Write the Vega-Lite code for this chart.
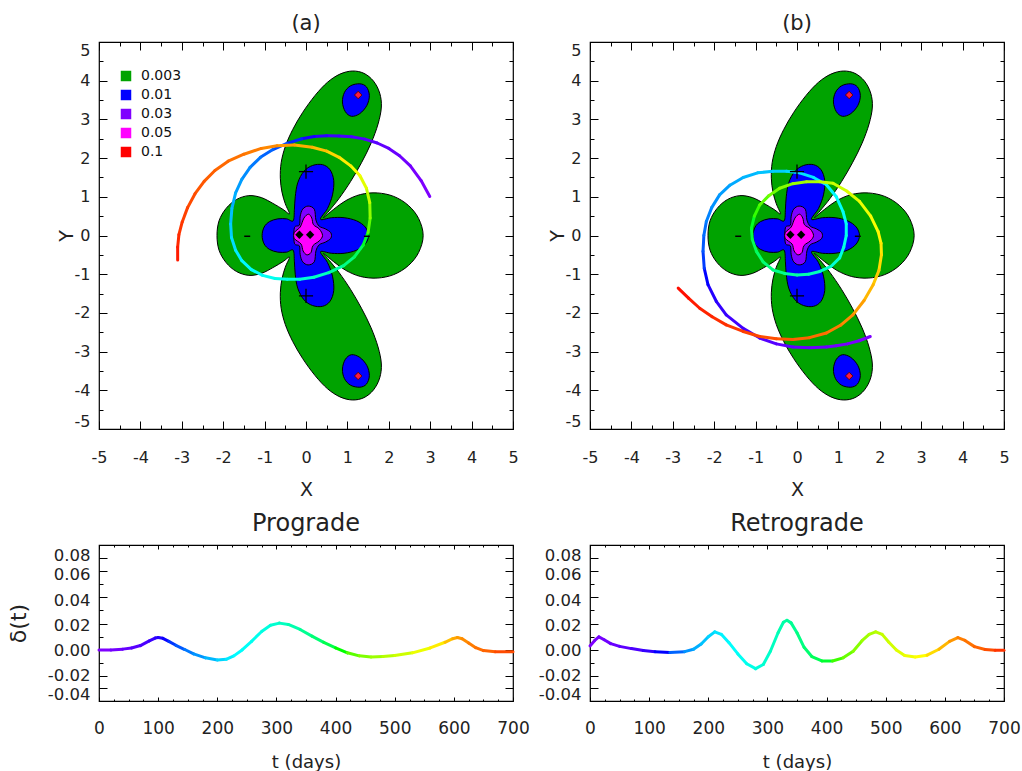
{
"$schema": "https://vega.github.io/schema/vega-lite/v6.json",
"background": "white",
"padding": {"left": 6, "top": 11, "right": 0, "bottom": 5},
"bounds": "flush",
"columns": 2,
"spacing": {"row": 116, "column": 77},
"config": {
  "font": "DejaVu Sans",
  "view": {"stroke": "#000", "strokeWidth": 1.2},
  "axis": {"domain": false, "grid": false, "labelFont": "DejaVu Sans", "titleFont": "DejaVu Sans", "labelColor": "#222", "titleColor": "#222", "tickColor": "#000", "tickWidth": 1, "titleFontWeight": "normal", "labelFlush": false, "labelOverlap": false},
  "title": {"fontWeight": "normal", "color": "#222", "font": "DejaVu Sans"},
  "legend": {"symbolStrokeWidth": 0, "labelFont": "DejaVu Sans", "labelFontSize": 14}
},
"resolve": {"scale": {"x": "independent", "y": "independent", "fill": "independent", "color": "independent"}, "legend": {"fill": "independent", "color": "independent"}},
"datasets": {
  "contours": [
    {"p":"g","l":"0.003","i":0,"x":-2.15,"y":0.0},{"p":"g","l":"0.003","i":1,"x":-2.10,"y":0.38},{"p":"g","l":"0.003","i":2,"x":-1.93,"y":0.70},{"p":"g","l":"0.003","i":3,"x":-1.68,"y":0.93},{"p":"g","l":"0.003","i":4,"x":-1.38,"y":1.03},{"p":"g","l":"0.003","i":5,"x":-1.08,"y":0.98},{"p":"g","l":"0.003","i":6,"x":-0.80,"y":0.83},{"p":"g","l":"0.003","i":7,"x":-0.55,"y":0.67},{"p":"g","l":"0.003","i":8,"x":-0.40,"y":0.56},{"p":"g","l":"0.003","i":9,"x":-0.50,"y":0.82},{"p":"g","l":"0.003","i":10,"x":-0.58,"y":1.12},{"p":"g","l":"0.003","i":11,"x":-0.62,"y":1.48},{"p":"g","l":"0.003","i":12,"x":-0.60,"y":1.88},{"p":"g","l":"0.003","i":13,"x":-0.50,"y":2.30},{"p":"g","l":"0.003","i":14,"x":-0.32,"y":2.74},{"p":"g","l":"0.003","i":15,"x":-0.08,"y":3.18},{"p":"g","l":"0.003","i":16,"x":0.22,"y":3.62},{"p":"g","l":"0.003","i":17,"x":0.52,"y":3.96},{"p":"g","l":"0.003","i":18,"x":0.82,"y":4.17},{"p":"g","l":"0.003","i":19,"x":1.12,"y":4.25},{"p":"g","l":"0.003","i":20,"x":1.40,"y":4.19},{"p":"g","l":"0.003","i":21,"x":1.63,"y":3.99},{"p":"g","l":"0.003","i":22,"x":1.78,"y":3.68},{"p":"g","l":"0.003","i":23,"x":1.82,"y":3.32},{"p":"g","l":"0.003","i":24,"x":1.74,"y":2.88},{"p":"g","l":"0.003","i":25,"x":1.57,"y":2.38},{"p":"g","l":"0.003","i":26,"x":1.34,"y":1.88},{"p":"g","l":"0.003","i":27,"x":1.08,"y":1.40},{"p":"g","l":"0.003","i":28,"x":0.80,"y":0.96},{"p":"g","l":"0.003","i":29,"x":0.56,"y":0.64},{"p":"g","l":"0.003","i":30,"x":0.42,"y":0.46},{"p":"g","l":"0.003","i":31,"x":0.66,"y":0.67},{"p":"g","l":"0.003","i":32,"x":0.96,"y":0.90},{"p":"g","l":"0.003","i":33,"x":1.32,"y":1.06},{"p":"g","l":"0.003","i":34,"x":1.72,"y":1.10},{"p":"g","l":"0.003","i":35,"x":2.12,"y":1.01},{"p":"g","l":"0.003","i":36,"x":2.47,"y":0.78},{"p":"g","l":"0.003","i":37,"x":2.72,"y":0.44},{"p":"g","l":"0.003","i":38,"x":2.83,"y":0.0},{"p":"g","l":"0.003","i":39,"x":2.72,"y":-0.44},{"p":"g","l":"0.003","i":40,"x":2.47,"y":-0.78},{"p":"g","l":"0.003","i":41,"x":2.12,"y":-1.01},{"p":"g","l":"0.003","i":42,"x":1.72,"y":-1.10},{"p":"g","l":"0.003","i":43,"x":1.32,"y":-1.06},{"p":"g","l":"0.003","i":44,"x":0.96,"y":-0.90},{"p":"g","l":"0.003","i":45,"x":0.66,"y":-0.67},{"p":"g","l":"0.003","i":46,"x":0.42,"y":-0.46},{"p":"g","l":"0.003","i":47,"x":0.56,"y":-0.64},{"p":"g","l":"0.003","i":48,"x":0.80,"y":-0.96},{"p":"g","l":"0.003","i":49,"x":1.08,"y":-1.40},{"p":"g","l":"0.003","i":50,"x":1.34,"y":-1.88},{"p":"g","l":"0.003","i":51,"x":1.57,"y":-2.38},{"p":"g","l":"0.003","i":52,"x":1.74,"y":-2.88},{"p":"g","l":"0.003","i":53,"x":1.82,"y":-3.32},{"p":"g","l":"0.003","i":54,"x":1.78,"y":-3.68},{"p":"g","l":"0.003","i":55,"x":1.63,"y":-3.99},{"p":"g","l":"0.003","i":56,"x":1.40,"y":-4.19},{"p":"g","l":"0.003","i":57,"x":1.12,"y":-4.25},{"p":"g","l":"0.003","i":58,"x":0.82,"y":-4.17},{"p":"g","l":"0.003","i":59,"x":0.52,"y":-3.96},{"p":"g","l":"0.003","i":60,"x":0.22,"y":-3.62},{"p":"g","l":"0.003","i":61,"x":-0.08,"y":-3.18},{"p":"g","l":"0.003","i":62,"x":-0.32,"y":-2.74},{"p":"g","l":"0.003","i":63,"x":-0.50,"y":-2.30},{"p":"g","l":"0.003","i":64,"x":-0.60,"y":-1.88},{"p":"g","l":"0.003","i":65,"x":-0.62,"y":-1.48},{"p":"g","l":"0.003","i":66,"x":-0.58,"y":-1.12},{"p":"g","l":"0.003","i":67,"x":-0.50,"y":-0.82},{"p":"g","l":"0.003","i":68,"x":-0.40,"y":-0.56},{"p":"g","l":"0.003","i":69,"x":-0.55,"y":-0.67},{"p":"g","l":"0.003","i":70,"x":-0.80,"y":-0.83},{"p":"g","l":"0.003","i":71,"x":-1.08,"y":-0.98},{"p":"g","l":"0.003","i":72,"x":-1.38,"y":-1.03},{"p":"g","l":"0.003","i":73,"x":-1.68,"y":-0.93},{"p":"g","l":"0.003","i":74,"x":-1.93,"y":-0.70},{"p":"g","l":"0.003","i":75,"x":-2.10,"y":-0.38},
    {"p":"b1","l":"0.01","i":0,"x":-1.06,"y":0.0},{"p":"b1","l":"0.01","i":1,"x":-1.01,"y":0.22},{"p":"b1","l":"0.01","i":2,"x":-0.88,"y":0.36},{"p":"b1","l":"0.01","i":3,"x":-0.68,"y":0.43},{"p":"b1","l":"0.01","i":4,"x":-0.47,"y":0.43},{"p":"b1","l":"0.01","i":5,"x":-0.31,"y":0.38},{"p":"b1","l":"0.01","i":6,"x":-0.28,"y":0.68},{"p":"b1","l":"0.01","i":7,"x":-0.26,"y":1.00},{"p":"b1","l":"0.01","i":8,"x":-0.20,"y":1.36},{"p":"b1","l":"0.01","i":9,"x":-0.05,"y":1.66},{"p":"b1","l":"0.01","i":10,"x":0.16,"y":1.81},{"p":"b1","l":"0.01","i":11,"x":0.40,"y":1.83},{"p":"b1","l":"0.01","i":12,"x":0.58,"y":1.70},{"p":"b1","l":"0.01","i":13,"x":0.67,"y":1.42},{"p":"b1","l":"0.01","i":14,"x":0.64,"y":1.05},{"p":"b1","l":"0.01","i":15,"x":0.52,"y":0.70},{"p":"b1","l":"0.01","i":16,"x":0.35,"y":0.42},{"p":"b1","l":"0.01","i":17,"x":0.62,"y":0.46},{"p":"b1","l":"0.01","i":18,"x":0.92,"y":0.46},{"p":"b1","l":"0.01","i":19,"x":1.22,"y":0.38},{"p":"b1","l":"0.01","i":20,"x":1.43,"y":0.22},{"p":"b1","l":"0.01","i":21,"x":1.51,"y":0.0},{"p":"b1","l":"0.01","i":22,"x":1.43,"y":-0.22},{"p":"b1","l":"0.01","i":23,"x":1.22,"y":-0.38},{"p":"b1","l":"0.01","i":24,"x":0.92,"y":-0.46},{"p":"b1","l":"0.01","i":25,"x":0.62,"y":-0.46},{"p":"b1","l":"0.01","i":26,"x":0.35,"y":-0.42},{"p":"b1","l":"0.01","i":27,"x":0.52,"y":-0.70},{"p":"b1","l":"0.01","i":28,"x":0.64,"y":-1.05},{"p":"b1","l":"0.01","i":29,"x":0.67,"y":-1.42},{"p":"b1","l":"0.01","i":30,"x":0.58,"y":-1.70},{"p":"b1","l":"0.01","i":31,"x":0.40,"y":-1.83},{"p":"b1","l":"0.01","i":32,"x":0.16,"y":-1.81},{"p":"b1","l":"0.01","i":33,"x":-0.05,"y":-1.66},{"p":"b1","l":"0.01","i":34,"x":-0.20,"y":-1.36},{"p":"b1","l":"0.01","i":35,"x":-0.26,"y":-1.00},{"p":"b1","l":"0.01","i":36,"x":-0.28,"y":-0.68},{"p":"b1","l":"0.01","i":37,"x":-0.31,"y":-0.38},{"p":"b1","l":"0.01","i":38,"x":-0.47,"y":-0.43},{"p":"b1","l":"0.01","i":39,"x":-0.68,"y":-0.43},{"p":"b1","l":"0.01","i":40,"x":-0.88,"y":-0.36},{"p":"b1","l":"0.01","i":41,"x":-1.01,"y":-0.22},
    {"p":"b2","l":"0.01","i":0,"x":1.30,"y":3.92},{"p":"b2","l":"0.01","i":1,"x":1.46,"y":3.84},{"p":"b2","l":"0.01","i":2,"x":1.53,"y":3.62},{"p":"b2","l":"0.01","i":3,"x":1.47,"y":3.36},{"p":"b2","l":"0.01","i":4,"x":1.30,"y":3.15},{"p":"b2","l":"0.01","i":5,"x":1.10,"y":3.08},{"p":"b2","l":"0.01","i":6,"x":0.95,"y":3.20},{"p":"b2","l":"0.01","i":7,"x":0.88,"y":3.45},{"p":"b2","l":"0.01","i":8,"x":0.93,"y":3.70},{"p":"b2","l":"0.01","i":9,"x":1.08,"y":3.87},
    {"p":"b3","l":"0.01","i":0,"x":1.30,"y":-3.92},{"p":"b3","l":"0.01","i":1,"x":1.46,"y":-3.84},{"p":"b3","l":"0.01","i":2,"x":1.53,"y":-3.62},{"p":"b3","l":"0.01","i":3,"x":1.47,"y":-3.36},{"p":"b3","l":"0.01","i":4,"x":1.30,"y":-3.15},{"p":"b3","l":"0.01","i":5,"x":1.10,"y":-3.08},{"p":"b3","l":"0.01","i":6,"x":0.95,"y":-3.20},{"p":"b3","l":"0.01","i":7,"x":0.88,"y":-3.45},{"p":"b3","l":"0.01","i":8,"x":0.93,"y":-3.70},{"p":"b3","l":"0.01","i":9,"x":1.08,"y":-3.87},
    {"p":"v","l":"0.03","i":0,"x":-0.28,"y":0.20},{"p":"v","l":"0.03","i":1,"x":-0.16,"y":0.27},{"p":"v","l":"0.03","i":2,"x":-0.14,"y":0.50},{"p":"v","l":"0.03","i":3,"x":-0.08,"y":0.68},{"p":"v","l":"0.03","i":4,"x":0.05,"y":0.76},{"p":"v","l":"0.03","i":5,"x":0.20,"y":0.68},{"p":"v","l":"0.03","i":6,"x":0.24,"y":0.40},{"p":"v","l":"0.03","i":7,"x":0.32,"y":0.24},{"p":"v","l":"0.03","i":8,"x":0.47,"y":0.17},{"p":"v","l":"0.03","i":9,"x":0.60,"y":0.07},{"p":"v","l":"0.03","i":10,"x":0.60,"y":-0.07},{"p":"v","l":"0.03","i":11,"x":0.47,"y":-0.17},{"p":"v","l":"0.03","i":12,"x":0.32,"y":-0.24},{"p":"v","l":"0.03","i":13,"x":0.24,"y":-0.40},{"p":"v","l":"0.03","i":14,"x":0.20,"y":-0.68},{"p":"v","l":"0.03","i":15,"x":0.05,"y":-0.76},{"p":"v","l":"0.03","i":16,"x":-0.08,"y":-0.68},{"p":"v","l":"0.03","i":17,"x":-0.14,"y":-0.50},{"p":"v","l":"0.03","i":18,"x":-0.16,"y":-0.27},{"p":"v","l":"0.03","i":19,"x":-0.28,"y":-0.20},
    {"p":"m","l":"0.05","i":0,"x":-0.28,"y":0.08},{"p":"m","l":"0.05","i":1,"x":-0.14,"y":0.22},{"p":"m","l":"0.05","i":2,"x":-0.05,"y":0.45},{"p":"m","l":"0.05","i":3,"x":0.06,"y":0.55},{"p":"m","l":"0.05","i":4,"x":0.14,"y":0.45},{"p":"m","l":"0.05","i":5,"x":0.18,"y":0.28},{"p":"m","l":"0.05","i":6,"x":0.32,"y":0.17},{"p":"m","l":"0.05","i":7,"x":0.40,"y":0.0},{"p":"m","l":"0.05","i":8,"x":0.32,"y":-0.14},{"p":"m","l":"0.05","i":9,"x":0.17,"y":-0.26},{"p":"m","l":"0.05","i":10,"x":0.12,"y":-0.44},{"p":"m","l":"0.05","i":11,"x":0.02,"y":-0.50},{"p":"m","l":"0.05","i":12,"x":-0.07,"y":-0.40},{"p":"m","l":"0.05","i":13,"x":-0.12,"y":-0.22},{"p":"m","l":"0.05","i":14,"x":-0.28,"y":-0.08}
  ],
  "marks": [
    {"k":"dia","x":-0.16,"y":0.02},{"k":"dia","x":0.10,"y":0.02},
    {"k":"plus","x":0.0,"y":1.65},{"k":"plus","x":0.0,"y":-1.56},
    {"k":"dash","x":-1.42,"y":-0.02},{"k":"dash","x":1.47,"y":-0.02},
    {"k":"red","x":1.26,"y":3.63},{"k":"red","x":1.26,"y":-3.63}
  ],
  "trajA": [
    {"t":0,"x":2.99,"y":1.01},{"t":12,"x":2.78,"y":1.42},{"t":24,"x":2.52,"y":1.80},{"t":34,"x":2.26,"y":2.06},{"t":44,"x":2.00,"y":2.25},{"t":54,"x":1.72,"y":2.39},{"t":64,"x":1.42,"y":2.49},{"t":74,"x":1.10,"y":2.55},{"t":84,"x":0.80,"y":2.57},{"t":95,"x":0.50,"y":2.575},{"t":104,"x":0.20,"y":2.56},{"t":114,"x":-0.10,"y":2.50},{"t":125,"x":-0.46,"y":2.38},
    {"t":135,"x":-0.80,"y":2.22},{"t":145,"x":-1.10,"y":2.02},{"t":155,"x":-1.35,"y":1.76},{"t":165,"x":-1.55,"y":1.45},{"t":175,"x":-1.70,"y":1.10},{"t":185,"x":-1.79,"y":0.70},{"t":195,"x":-1.82,"y":0.30},{"t":205,"x":-1.80,"y":-0.05},{"t":215,"x":-1.70,"y":-0.38},{"t":225,"x":-1.55,"y":-0.65},{"t":237,"x":-1.32,"y":-0.88},{"t":250,"x":-1.05,"y":-1.03},{"t":262,"x":-0.75,"y":-1.11},{"t":275,"x":-0.45,"y":-1.13},
    {"t":290,"x":-0.15,"y":-1.13},{"t":305,"x":0.19,"y":-1.08},{"t":328,"x":0.55,"y":-0.96},{"t":350,"x":0.91,"y":-0.78},{"t":372,"x":1.17,"y":-0.55},{"t":395,"x":1.38,"y":-0.25},{"t":422,"x":1.50,"y":0.08},{"t":450,"x":1.55,"y":0.45},
    {"t":488,"x":1.54,"y":0.85},{"t":520,"x":1.46,"y":1.22},{"t":542,"x":1.30,"y":1.55},{"t":560,"x":1.08,"y":1.80},{"t":573,"x":0.80,"y":2.02},{"t":585,"x":0.50,"y":2.18},{"t":595,"x":0.15,"y":2.28},{"t":605,"x":-0.28,"y":2.34},
    {"t":615,"x":-0.70,"y":2.32},{"t":625,"x":-1.08,"y":2.25},{"t":635,"x":-1.50,"y":2.10},{"t":645,"x":-1.88,"y":1.92},{"t":654,"x":-2.20,"y":1.68},{"t":662,"x":-2.46,"y":1.40},{"t":670,"x":-2.68,"y":1.08},{"t":678,"x":-2.86,"y":0.72},{"t":684,"x":-2.99,"y":0.35},{"t":690,"x":-3.07,"y":0.02},{"t":695,"x":-3.10,"y":-0.30},{"t":700,"x":-3.10,"y":-0.63}
  ],
  "trajB": [
    {"t":0,"x":1.77,"y":-2.61},{"t":8,"x":1.50,"y":-2.72},{"t":15,"x":1.22,"y":-2.80},{"t":22,"x":0.95,"y":-2.85},{"t":30,"x":0.71,"y":-2.88},{"t":40,"x":0.30,"y":-2.90},{"t":50,"x":-0.10,"y":-2.88},{"t":60,"x":-0.50,"y":-2.80},{"t":70,"x":-0.90,"y":-2.65},{"t":80,"x":-1.30,"y":-2.40},{"t":90,"x":-1.71,"y":-2.05},{"t":100,"x":-1.95,"y":-1.70},{"t":110,"x":-2.15,"y":-1.27},{"t":120,"x":-2.24,"y":-0.85},{"t":130,"x":-2.27,"y":-0.41},{"t":140,"x":-2.25,"y":0.0},{"t":150,"x":-2.19,"y":0.36},{"t":158,"x":-2.06,"y":0.72},{"t":165,"x":-1.87,"y":1.05},{"t":172,"x":-1.62,"y":1.30},{"t":180,"x":-1.30,"y":1.50},{"t":188,"x":-0.95,"y":1.62},{"t":195,"x":-0.58,"y":1.66},{"t":203,"x":-0.25,"y":1.66},{"t":210,"x":0.06,"y":1.62},{"t":217,"x":0.40,"y":1.50},{"t":225,"x":0.71,"y":1.31},{"t":235,"x":0.95,"y":1.00},{"t":245,"x":1.11,"y":0.62},{"t":255,"x":1.19,"y":0.30},{"t":265,"x":1.19,"y":0.0},{"t":275,"x":1.13,"y":-0.30},{"t":285,"x":1.03,"y":-0.58},{"t":298,"x":0.82,"y":-0.80},{"t":310,"x":0.55,"y":-0.93},{"t":320,"x":0.28,"y":-1.00},{"t":330,"x":0.0,"y":-1.02},{"t":343,"x":-0.30,"y":-0.98},{"t":355,"x":-0.58,"y":-0.89},{"t":365,"x":-0.82,"y":-0.68},{"t":375,"x":-0.98,"y":-0.41},{"t":385,"x":-1.08,"y":-0.10},{"t":395,"x":-1.10,"y":0.19},{"t":407,"x":-1.03,"y":0.50},{"t":420,"x":-0.90,"y":0.79},{"t":432,"x":-0.68,"y":1.03},{"t":445,"x":-0.42,"y":1.22},{"t":458,"x":-0.10,"y":1.34},{"t":470,"x":0.23,"y":1.39},{"t":485,"x":0.55,"y":1.39},{"t":500,"x":0.87,"y":1.35},{"t":515,"x":1.20,"y":1.15},{"t":530,"x":1.51,"y":0.88},{"t":543,"x":1.78,"y":0.50},{"t":555,"x":1.96,"y":0.10},{"t":563,"x":2.03,"y":-0.20},{"t":570,"x":2.04,"y":-0.50},{"t":580,"x":1.98,"y":-0.90},{"t":590,"x":1.84,"y":-1.27},{"t":603,"x":1.62,"y":-1.68},{"t":615,"x":1.35,"y":-2.05},{"t":628,"x":1.05,"y":-2.32},{"t":640,"x":0.71,"y":-2.52},{"t":650,"x":0.30,"y":-2.64},{"t":660,"x":-0.10,"y":-2.69},{"t":668,"x":-0.50,"y":-2.67},{"t":675,"x":-0.90,"y":-2.61},{"t":682,"x":-1.30,"y":-2.48},{"t":688,"x":-1.71,"y":-2.31},{"t":692,"x":-2.05,"y":-2.10},{"t":695,"x":-2.35,"y":-1.88},{"t":698,"x":-2.62,"y":-1.62},{"t":700,"x":-2.87,"y":-1.36}
  ],
  "dP": [
    {"t":0,"d":0.0},{"t":20,"d":0.0},{"t":40,"d":0.0006},{"t":55,"d":0.0015},{"t":70,"d":0.0033},{"t":85,"d":0.0068},{"t":95,"d":0.0090},{"t":100,"d":0.0094},{"t":108,"d":0.0088},{"t":118,"d":0.0065},{"t":130,"d":0.0035},{"t":145,"d":0.0003},{"t":160,"d":-0.0030},{"t":180,"d":-0.0060},{"t":200,"d":-0.0076},{"t":215,"d":-0.0071},{"t":228,"d":-0.0045},{"t":242,"d":0.0},{"t":258,"d":0.0065},{"t":275,"d":0.0140},{"t":290,"d":0.0187},{"t":305,"d":0.0203},{"t":320,"d":0.0193},{"t":340,"d":0.0155},{"t":360,"d":0.0105},{"t":380,"d":0.0057},{"t":400,"d":0.0015},{"t":420,"d":-0.0022},{"t":440,"d":-0.0045},{"t":460,"d":-0.0053},{"t":480,"d":-0.0050},{"t":500,"d":-0.0042},{"t":530,"d":-0.0022},{"t":560,"d":0.0015},{"t":585,"d":0.0058},{"t":598,"d":0.0085},{"t":606,"d":0.0094},{"t":614,"d":0.0085},{"t":625,"d":0.0052},{"t":637,"d":0.0017},{"t":650,"d":-0.0005},{"t":670,"d":-0.0013},{"t":700,"d":-0.0013}
  ],
  "dR": [
    {"t":0,"d":0.0030},{"t":8,"d":0.0072},{"t":15,"d":0.0099},{"t":24,"d":0.0077},{"t":35,"d":0.0048},{"t":50,"d":0.0027},{"t":70,"d":0.0010},{"t":90,"d":-0.0005},{"t":110,"d":-0.0013},{"t":135,"d":-0.0020},{"t":160,"d":-0.0013},{"t":175,"d":0.0005},{"t":188,"d":0.0045},{"t":200,"d":0.0100},{"t":211,"d":0.0137},{"t":222,"d":0.0118},{"t":235,"d":0.0055},{"t":250,"d":-0.0030},{"t":265,"d":-0.0105},{"t":280,"d":-0.0142},{"t":293,"d":-0.0110},{"t":305,"d":-0.0010},{"t":318,"d":0.0130},{"t":327,"d":0.0210},{"t":333,"d":0.0225},{"t":340,"d":0.0205},{"t":350,"d":0.0130},{"t":362,"d":0.0020},{"t":375,"d":-0.0050},{"t":392,"d":-0.0083},{"t":410,"d":-0.0084},{"t":428,"d":-0.0060},{"t":445,"d":-0.0010},{"t":460,"d":0.0070},{"t":472,"d":0.0118},{"t":483,"d":0.0137},{"t":494,"d":0.0118},{"t":505,"d":0.0060},{"t":518,"d":0.0},{"t":532,"d":-0.0042},{"t":550,"d":-0.0053},{"t":570,"d":-0.0040},{"t":590,"d":0.0005},{"t":608,"d":0.0065},{"t":622,"d":0.0094},{"t":634,"d":0.0072},{"t":650,"d":0.0025},{"t":668,"d":0.0003},{"t":685,"d":-0.0003},{"t":700,"d":-0.0003}
  ]
},
"concat": [
  {
    "width": 414, "height": 387,
    "title": {"text": "(a)", "fontSize": 21, "offset": 8},
    "resolve": {"axis": {"x": "independent", "y": "independent"}},
    "layer": [
      {
        "data": {"name": "contours"},
        "mark": {"type": "line", "interpolate": "cardinal-closed", "stroke": "#000", "strokeWidth": 1},
        "encoding": {
          "x": {"field": "x", "type": "quantitative", "scale": {"domain": [-5, 5], "nice": false, "zero": false}, "axis": {"orient": "bottom", "values": [-5,-4,-3,-2,-1,0,1,2,3,4,5], "tickSize": -8, "labelPadding": 28, "labelFontSize": 16, "labelExpr": "replace(datum.label, '−', '-')", "title": "X", "titleFontSize": 19, "titlePadding": 15}},
          "y": {"field": "y", "type": "quantitative", "scale": {"domain": [-5, 5], "nice": false, "zero": false}, "axis": {"orient": "left", "values": [-5,-4,-3,-2,-1,0,1,2,3,4,5], "tickSize": -8, "labelPadding": 17, "labelFontSize": 16, "labelFlush": true, "labelExpr": "replace(datum.label, '−', '-')", "title": "Y", "titleFontSize": 19, "titlePadding": -2}},
          "fill": {"field": "l", "type": "nominal", "scale": {"domain": ["0.003", "0.01", "0.03", "0.05", "0.1"], "range": ["#00a300", "#0000ff", "#8000ff", "#ff00ff", "#ff0000"]}, "legend": {"title": null, "orient": "none", "legendX": 20, "legendY": 27, "symbolType": "square", "symbolSize": 110, "symbolStrokeWidth": 0, "symbolOpacity": 1, "labelFontSize": 14, "labelColor": "#111", "rowPadding": 5, "padding": 0, "labelOffset": 8}},
          "detail": {"field": "p", "type": "nominal"},
          "order": {"field": "i", "type": "quantitative"}
        }
      },
      {
        "data": {"name": "trajA"},
        "transform": [{"window": [{"op": "lead", "field": "x", "as": "x2"}, {"op": "lead", "field": "y", "as": "y2"}], "sort": [{"field": "t", "order": "ascending"}]}, {"filter": "datum.x2 != null"}],
        "mark": {"type": "rule", "strokeWidth": 3, "strokeCap": "round"},
        "encoding": {
          "x": {"field": "x", "type": "quantitative", "scale": {"domain": [-5, 5], "nice": false, "zero": false}, "axis": {"orient": "bottom", "values": [-4.5,-3.5,-2.5,-1.5,-0.5,0.5,1.5,2.5,3.5,4.5], "tickSize": -4, "labels": false, "title": null}},
          "y": {"field": "y", "type": "quantitative", "scale": {"domain": [-5, 5], "nice": false, "zero": false}, "axis": {"orient": "left", "values": [-4.5,-3.5,-2.5,-1.5,-0.5,0.5,1.5,2.5,3.5,4.5], "tickSize": -4, "labels": false, "title": null}},
          "x2": {"field": "x2"},
          "y2": {"field": "y2"},
          "color": {"field": "t", "type": "quantitative", "scale": {"domain": [0, 110, 230, 400, 550, 620, 700], "range": ["#7f00ff", "#0000ff", "#00ffff", "#00ff00", "#ffff00", "#ff8000", "#ff0000"]}, "legend": null}
        }
      },
      {
        "data": {"name": "marks"},
        "transform": [{"filter": "datum.k == 'dia'"}],
        "mark": {"type": "point", "shape": "diamond", "filled": true, "color": "#000", "size": 70, "opacity": 1},
        "encoding": {
          "x": {"field": "x", "type": "quantitative", "scale": {"domain": [-5, 5], "nice": false, "zero": false}, "axis": {"orient": "top", "values": [-5,-4,-3,-2,-1,0,1,2,3,4,5], "tickSize": -8, "labels": false, "title": null}},
          "y": {"field": "y", "type": "quantitative", "scale": {"domain": [-5, 5], "nice": false, "zero": false}, "axis": {"orient": "right", "values": [-5,-4,-3,-2,-1,0,1,2,3,4,5], "tickSize": -8, "labels": false, "title": null}}
        }
      },
      {
        "data": {"name": "marks"},
        "transform": [{"filter": "datum.k == 'plus'"}],
        "mark": {"type": "point", "shape": "M-1,0L1,0M0,-1L0,1", "filled": false, "stroke": "#000", "strokeWidth": 1.3, "size": 200, "opacity": 1},
        "encoding": {
          "x": {"field": "x", "type": "quantitative", "scale": {"domain": [-5, 5], "nice": false, "zero": false}, "axis": {"orient": "top", "values": [-4.5,-3.5,-2.5,-1.5,-0.5,0.5,1.5,2.5,3.5,4.5], "tickSize": -4, "labels": false, "title": null}},
          "y": {"field": "y", "type": "quantitative", "scale": {"domain": [-5, 5], "nice": false, "zero": false}, "axis": {"orient": "right", "values": [-4.5,-3.5,-2.5,-1.5,-0.5,0.5,1.5,2.5,3.5,4.5], "tickSize": -4, "labels": false, "title": null}}
        }
      },
      {
        "data": {"name": "marks"},
        "transform": [{"filter": "datum.k == 'dash'"}],
        "mark": {"type": "point", "shape": "M-1,0L1,0", "filled": false, "stroke": "#000", "strokeWidth": 1.5, "size": 36, "opacity": 1},
        "encoding": {
          "x": {"field": "x", "type": "quantitative", "scale": {"domain": [-5, 5], "nice": false, "zero": false}, "axis": null},
          "y": {"field": "y", "type": "quantitative", "scale": {"domain": [-5, 5], "nice": false, "zero": false}, "axis": null}
        }
      },
      {
        "data": {"name": "marks"},
        "transform": [{"filter": "datum.k == 'red'"}],
        "mark": {"type": "point", "shape": "diamond", "filled": true, "fill": "#ff1a40", "stroke": "#600000", "strokeWidth": 1, "size": 55, "opacity": 1},
        "encoding": {
          "x": {"field": "x", "type": "quantitative", "scale": {"domain": [-5, 5], "nice": false, "zero": false}, "axis": null},
          "y": {"field": "y", "type": "quantitative", "scale": {"domain": [-5, 5], "nice": false, "zero": false}, "axis": null}
        }
      }
    ]
  },
  {
    "width": 414, "height": 387,
    "title": {"text": "(b)", "fontSize": 21, "offset": 8},
    "resolve": {"axis": {"x": "independent", "y": "independent"}},
    "layer": [
      {
        "data": {"name": "contours"},
        "mark": {"type": "line", "interpolate": "cardinal-closed", "stroke": "#000", "strokeWidth": 1},
        "encoding": {
          "x": {"field": "x", "type": "quantitative", "scale": {"domain": [-5, 5], "nice": false, "zero": false}, "axis": {"orient": "bottom", "values": [-5,-4,-3,-2,-1,0,1,2,3,4,5], "tickSize": -8, "labelPadding": 28, "labelFontSize": 16, "labelExpr": "replace(datum.label, '−', '-')", "title": "X", "titleFontSize": 19, "titlePadding": 15}},
          "y": {"field": "y", "type": "quantitative", "scale": {"domain": [-5, 5], "nice": false, "zero": false}, "axis": {"orient": "left", "values": [-5,-4,-3,-2,-1,0,1,2,3,4,5], "tickSize": -8, "labelPadding": 17, "labelFontSize": 16, "labelFlush": true, "labelExpr": "replace(datum.label, '−', '-')", "title": "Y", "titleFontSize": 19, "titlePadding": -2}},
          "fill": {"field": "l", "type": "nominal", "scale": {"domain": ["0.003", "0.01", "0.03", "0.05", "0.1"], "range": ["#00a300", "#0000ff", "#8000ff", "#ff00ff", "#ff0000"]}, "legend": null},
          "detail": {"field": "p", "type": "nominal"},
          "order": {"field": "i", "type": "quantitative"}
        }
      },
      {
        "data": {"name": "trajB"},
        "transform": [{"window": [{"op": "lead", "field": "x", "as": "x2"}, {"op": "lead", "field": "y", "as": "y2"}], "sort": [{"field": "t", "order": "ascending"}]}, {"filter": "datum.x2 != null"}],
        "mark": {"type": "rule", "strokeWidth": 3, "strokeCap": "round"},
        "encoding": {
          "x": {"field": "x", "type": "quantitative", "scale": {"domain": [-5, 5], "nice": false, "zero": false}, "axis": {"orient": "bottom", "values": [-4.5,-3.5,-2.5,-1.5,-0.5,0.5,1.5,2.5,3.5,4.5], "tickSize": -4, "labels": false, "title": null}},
          "y": {"field": "y", "type": "quantitative", "scale": {"domain": [-5, 5], "nice": false, "zero": false}, "axis": {"orient": "left", "values": [-4.5,-3.5,-2.5,-1.5,-0.5,0.5,1.5,2.5,3.5,4.5], "tickSize": -4, "labels": false, "title": null}},
          "x2": {"field": "x2"},
          "y2": {"field": "y2"},
          "color": {"field": "t", "type": "quantitative", "scale": {"domain": [0, 110, 230, 400, 550, 620, 700], "range": ["#7f00ff", "#0000ff", "#00ffff", "#00ff00", "#ffff00", "#ff8000", "#ff0000"]}, "legend": null}
        }
      },
      {
        "data": {"name": "marks"},
        "transform": [{"filter": "datum.k == 'dia'"}],
        "mark": {"type": "point", "shape": "diamond", "filled": true, "color": "#000", "size": 70, "opacity": 1},
        "encoding": {
          "x": {"field": "x", "type": "quantitative", "scale": {"domain": [-5, 5], "nice": false, "zero": false}, "axis": {"orient": "top", "values": [-5,-4,-3,-2,-1,0,1,2,3,4,5], "tickSize": -8, "labels": false, "title": null}},
          "y": {"field": "y", "type": "quantitative", "scale": {"domain": [-5, 5], "nice": false, "zero": false}, "axis": {"orient": "right", "values": [-5,-4,-3,-2,-1,0,1,2,3,4,5], "tickSize": -8, "labels": false, "title": null}}
        }
      },
      {
        "data": {"name": "marks"},
        "transform": [{"filter": "datum.k == 'plus'"}],
        "mark": {"type": "point", "shape": "M-1,0L1,0M0,-1L0,1", "filled": false, "stroke": "#000", "strokeWidth": 1.3, "size": 200, "opacity": 1},
        "encoding": {
          "x": {"field": "x", "type": "quantitative", "scale": {"domain": [-5, 5], "nice": false, "zero": false}, "axis": {"orient": "top", "values": [-4.5,-3.5,-2.5,-1.5,-0.5,0.5,1.5,2.5,3.5,4.5], "tickSize": -4, "labels": false, "title": null}},
          "y": {"field": "y", "type": "quantitative", "scale": {"domain": [-5, 5], "nice": false, "zero": false}, "axis": {"orient": "right", "values": [-4.5,-3.5,-2.5,-1.5,-0.5,0.5,1.5,2.5,3.5,4.5], "tickSize": -4, "labels": false, "title": null}}
        }
      },
      {
        "data": {"name": "marks"},
        "transform": [{"filter": "datum.k == 'dash'"}],
        "mark": {"type": "point", "shape": "M-1,0L1,0", "filled": false, "stroke": "#000", "strokeWidth": 1.5, "size": 36, "opacity": 1},
        "encoding": {
          "x": {"field": "x", "type": "quantitative", "scale": {"domain": [-5, 5], "nice": false, "zero": false}, "axis": null},
          "y": {"field": "y", "type": "quantitative", "scale": {"domain": [-5, 5], "nice": false, "zero": false}, "axis": null}
        }
      },
      {
        "data": {"name": "marks"},
        "transform": [{"filter": "datum.k == 'red'"}],
        "mark": {"type": "point", "shape": "diamond", "filled": true, "fill": "#ff1a40", "stroke": "#600000", "strokeWidth": 1, "size": 55, "opacity": 1},
        "encoding": {
          "x": {"field": "x", "type": "quantitative", "scale": {"domain": [-5, 5], "nice": false, "zero": false}, "axis": null},
          "y": {"field": "y", "type": "quantitative", "scale": {"domain": [-5, 5], "nice": false, "zero": false}, "axis": null}
        }
      }
    ]
  },
  {
    "width": 414, "height": 156,
    "title": {"text": "Prograde", "fontSize": 24, "offset": 9},
    "resolve": {"axis": {"x": "independent", "y": "independent"}},
    "layer": [
      {
        "data": {"name": "dP"},
        "transform": [{"window": [{"op": "lead", "field": "t", "as": "t2"}, {"op": "lead", "field": "d", "as": "d2"}], "sort": [{"field": "t", "order": "ascending"}]}, {"filter": "datum.t2 != null"}],
        "mark": {"type": "rule", "strokeWidth": 3, "strokeCap": "round"},
        "encoding": {
          "x": {"field": "t", "type": "quantitative", "scale": {"domain": [0, 700], "nice": false, "zero": false}, "axis": {"orient": "bottom", "values": [0,100,200,300,400,500,600,700], "tickSize": -4, "labelPadding": 23, "labelFontSize": 17, "title": "t (days)", "titleFontSize": 18, "titlePadding": 17}},
          "y": {"field": "d", "type": "quantitative", "scale": {"domain": [-0.0387, 0.0795], "nice": false, "zero": false}, "axis": {"orient": "left", "values": [-0.0336, -0.0195, -0.0008, 0.0184, 0.0378, 0.0575, 0.0714], "ticks": false, "labelPadding": 9, "labelFontSize": 16.5, "labelExpr": "datum.value < -0.03 ? '-0.04' : datum.value < -0.01 ? '-0.02' : datum.value < 0.01 ? '0.00' : datum.value < 0.03 ? '0.02' : datum.value < 0.05 ? '0.04' : datum.value < 0.065 ? '0.06' : '0.08'", "title": "δ(t)", "titleFontSize": 22, "titlePadding": 17}},
          "x2": {"field": "t2"},
          "y2": {"field": "d2"},
          "color": {"field": "t", "type": "quantitative", "scale": {"domain": [0, 110, 230, 400, 550, 620, 700], "range": ["#7f00ff", "#0000ff", "#00ffff", "#00ff00", "#ffff00", "#ff8000", "#ff0000"]}, "legend": null}
        }
      },
      {
        "data": {"name": "dP"},
        "mark": {"type": "point", "opacity": 0},
        "encoding": {
          "x": {"field": "t", "type": "quantitative", "scale": {"domain": [0, 700], "nice": false, "zero": false}, "axis": {"orient": "bottom", "values": [25,50,75,125,150,175,225,250,275,325,350,375,425,450,475,525,550,575,625,650,675], "tickSize": -2, "labels": false, "title": null}},
          "y": {"field": "d", "type": "quantitative", "scale": {"domain": [-0.0387, 0.0795], "nice": false, "zero": false}, "axis": {"orient": "left", "values": [-0.0285, -0.02, 0, 0.02, 0.04, 0.06, 0.0694], "tickSize": -8, "labels": false, "title": null}}
        }
      },
      {
        "data": {"name": "dP"},
        "mark": {"type": "point", "opacity": 0},
        "encoding": {
          "x": {"field": "t", "type": "quantitative", "scale": {"domain": [0, 700], "nice": false, "zero": false}, "axis": {"orient": "top", "values": [0,100,200,300,400,500,600,700], "tickSize": -4, "labels": false, "title": null}},
          "y": {"field": "d", "type": "quantitative", "scale": {"domain": [-0.0387, 0.0795], "nice": false, "zero": false}, "axis": {"orient": "left", "values": [-0.01, 0.01, 0.03, 0.05], "tickSize": -4, "labels": false, "title": null}}
        }
      },
      {
        "data": {"name": "dP"},
        "mark": {"type": "point", "opacity": 0},
        "encoding": {
          "x": {"field": "t", "type": "quantitative", "scale": {"domain": [0, 700], "nice": false, "zero": false}, "axis": {"orient": "top", "values": [25,50,75,125,150,175,225,250,275,325,350,375,425,450,475,525,550,575,625,650,675], "tickSize": -2, "labels": false, "title": null}},
          "y": {"field": "d", "type": "quantitative", "scale": {"domain": [-0.0387, 0.0795], "nice": false, "zero": false}, "axis": {"orient": "right", "values": [-0.0285, -0.02, 0, 0.02, 0.04, 0.06, 0.0694], "tickSize": -8, "labels": false, "title": null}}
        }
      },
      {
        "data": {"name": "dP"},
        "mark": {"type": "point", "opacity": 0},
        "encoding": {
          "x": {"field": "t", "type": "quantitative", "scale": {"domain": [0, 700], "nice": false, "zero": false}, "axis": null},
          "y": {"field": "d", "type": "quantitative", "scale": {"domain": [-0.0387, 0.0795], "nice": false, "zero": false}, "axis": {"orient": "right", "values": [-0.01, 0.01, 0.03, 0.05], "tickSize": -4, "labels": false, "title": null}}
        }
      }
    ]
  },
  {
    "width": 414, "height": 156,
    "title": {"text": "Retrograde", "fontSize": 24, "offset": 9},
    "resolve": {"axis": {"x": "independent", "y": "independent"}},
    "layer": [
      {
        "data": {"name": "dR"},
        "transform": [{"window": [{"op": "lead", "field": "t", "as": "t2"}, {"op": "lead", "field": "d", "as": "d2"}], "sort": [{"field": "t", "order": "ascending"}]}, {"filter": "datum.t2 != null"}],
        "mark": {"type": "rule", "strokeWidth": 3, "strokeCap": "round"},
        "encoding": {
          "x": {"field": "t", "type": "quantitative", "scale": {"domain": [0, 700], "nice": false, "zero": false}, "axis": {"orient": "bottom", "values": [0,100,200,300,400,500,600,700], "tickSize": -4, "labelPadding": 23, "labelFontSize": 17, "title": "t (days)", "titleFontSize": 18, "titlePadding": 17}},
          "y": {"field": "d", "type": "quantitative", "scale": {"domain": [-0.0387, 0.0795], "nice": false, "zero": false}, "axis": {"orient": "left", "values": [-0.0336, -0.0195, -0.0008, 0.0184, 0.0378, 0.0575, 0.0714], "ticks": false, "labelPadding": 9, "labelFontSize": 16.5, "labelExpr": "datum.value < -0.03 ? '-0.04' : datum.value < -0.01 ? '-0.02' : datum.value < 0.01 ? '0.00' : datum.value < 0.03 ? '0.02' : datum.value < 0.05 ? '0.04' : datum.value < 0.065 ? '0.06' : '0.08'", "title": null}},
          "x2": {"field": "t2"},
          "y2": {"field": "d2"},
          "color": {"field": "t", "type": "quantitative", "scale": {"domain": [0, 110, 230, 400, 550, 620, 700], "range": ["#7f00ff", "#0000ff", "#00ffff", "#00ff00", "#ffff00", "#ff8000", "#ff0000"]}, "legend": null}
        }
      },
      {
        "data": {"name": "dR"},
        "mark": {"type": "point", "opacity": 0},
        "encoding": {
          "x": {"field": "t", "type": "quantitative", "scale": {"domain": [0, 700], "nice": false, "zero": false}, "axis": {"orient": "bottom", "values": [25,50,75,125,150,175,225,250,275,325,350,375,425,450,475,525,550,575,625,650,675], "tickSize": -2, "labels": false, "title": null}},
          "y": {"field": "d", "type": "quantitative", "scale": {"domain": [-0.0387, 0.0795], "nice": false, "zero": false}, "axis": {"orient": "left", "values": [-0.0285, -0.02, 0, 0.02, 0.04, 0.06, 0.0694], "tickSize": -8, "labels": false, "title": null}}
        }
      },
      {
        "data": {"name": "dR"},
        "mark": {"type": "point", "opacity": 0},
        "encoding": {
          "x": {"field": "t", "type": "quantitative", "scale": {"domain": [0, 700], "nice": false, "zero": false}, "axis": {"orient": "top", "values": [0,100,200,300,400,500,600,700], "tickSize": -4, "labels": false, "title": null}},
          "y": {"field": "d", "type": "quantitative", "scale": {"domain": [-0.0387, 0.0795], "nice": false, "zero": false}, "axis": {"orient": "left", "values": [-0.01, 0.01, 0.03, 0.05], "tickSize": -4, "labels": false, "title": null}}
        }
      },
      {
        "data": {"name": "dR"},
        "mark": {"type": "point", "opacity": 0},
        "encoding": {
          "x": {"field": "t", "type": "quantitative", "scale": {"domain": [0, 700], "nice": false, "zero": false}, "axis": {"orient": "top", "values": [25,50,75,125,150,175,225,250,275,325,350,375,425,450,475,525,550,575,625,650,675], "tickSize": -2, "labels": false, "title": null}},
          "y": {"field": "d", "type": "quantitative", "scale": {"domain": [-0.0387, 0.0795], "nice": false, "zero": false}, "axis": {"orient": "right", "values": [-0.0285, -0.02, 0, 0.02, 0.04, 0.06, 0.0694], "tickSize": -8, "labels": false, "title": null}}
        }
      },
      {
        "data": {"name": "dR"},
        "mark": {"type": "point", "opacity": 0},
        "encoding": {
          "x": {"field": "t", "type": "quantitative", "scale": {"domain": [0, 700], "nice": false, "zero": false}, "axis": null},
          "y": {"field": "d", "type": "quantitative", "scale": {"domain": [-0.0387, 0.0795], "nice": false, "zero": false}, "axis": {"orient": "right", "values": [-0.01, 0.01, 0.03, 0.05], "tickSize": -4, "labels": false, "title": null}}
        }
      }
    ]
  }
]
}
